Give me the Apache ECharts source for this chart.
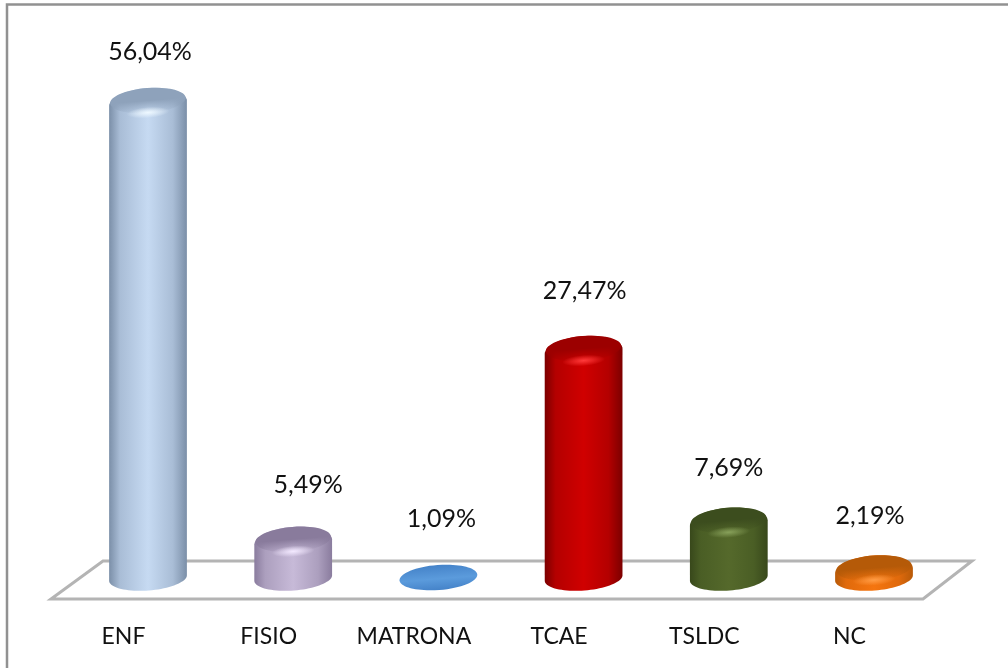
<!DOCTYPE html>
<html>
<head>
<meta charset="utf-8">
<style>
  html, body { margin: 0; padding: 0; background: #fff; }
  #main { width: 1008px; height: 668px; }
</style>
<script src="https://cdn.jsdelivr.net/npm/echarts@6/dist/echarts.min.js"></script>
</head>
<body>
<div id="main"></div>
<script>
var categories = ["ENF", "FISIO", "MATRONA", "TCAE", "TSLDC", "NC"];
var percentValues = [56.04, 5.49, 1.09, 27.47, 7.69, 2.19];

// colours of each cylinder: edge, shade, middle, top face, highlight
var edgeColors = ["#7b8fa8", "#8a7c9e", "#3f78bb", "#7c0000", "#38481b", "#b85a08"];
var shadeColors = ["#a9bdd6", "#ac9fbe", "#4a88cc", "#b40000", "#4a5e25", "#e06a0c"];
var midColors = ["#c6daf2", "#c7bad8", "#5b9bdc", "#d00000", "#55692b", "#f5750f"];
var topColors = ["#8ea2bb", "#897b9c", "#4583c9", "#9c0000", "#3c4d1e", "#b55a08"];
var lightColors = ["#eef8ff", "#f3e9ff", "#6eaae6", "#ff3a3a", "#87a05a", "#ff9c45"];

// manual nudges of the value labels, they do not sit on the bar centres in the original
var labelDx = [2, 15, 3, 1, 0, -4];
var labelDy = [-36, -42, -46, -45, -40, -40];

var halfWidth = 39;
var halfDepth = 12.5;
var shoulder = 3;
var tilt = 4.5 * Math.PI / 180;
// the cylinders stand on this level of the value axis
var baseLevel = 1.04;

function rotated(cx, cy, px, py) {
  return [
    cx + px * Math.cos(tilt) + py * Math.sin(tilt),
    cy - px * Math.sin(tilt) + py * Math.cos(tilt)
  ];
}

// outline: front half of the base, rounded shoulder half on top
function outline(cx, baseY, topY) {
  var pts = [];
  var i, t;
  for (i = 0; i <= 40; i++) {
    t = Math.PI * i / 40;
    pts.push(rotated(cx, baseY, -halfWidth * Math.cos(t), halfDepth * Math.sin(t)));
  }
  for (i = 0; i <= 40; i++) {
    t = Math.PI * i / 40;
    pts.push(rotated(cx, topY + shoulder, halfWidth * Math.cos(t), -(halfDepth + shoulder) * Math.sin(t)));
  }
  return pts;
}

function tiltedEllipse(cx, cy, rx, ry, fill) {
  return {
    type: "ellipse",
    x: cx,
    y: cy,
    rotation: tilt,
    shape: { cx: 0, cy: 0, rx: rx, ry: ry },
    style: { fill: fill }
  };
}

// unit circle scaled up, so a radial gradient follows the ellipse
function softEllipse(cx, cy, rx, ry, color) {
  return {
    type: "circle",
    x: cx,
    y: cy,
    scaleX: rx,
    scaleY: ry,
    rotation: tilt,
    shape: { cx: 0, cy: 0, r: 1 },
    style: {
      fill: new echarts.graphic.RadialGradient(0.5, 0.5, 0.5, [
        { offset: 0, color: color },
        { offset: 1, color: echarts.color.modifyAlpha(color, 0) }
      ])
    }
  };
}

function renderCylinder(params, api) {
  var i = params.dataIndex;
  var value = api.value(1);
  var cx = api.coord([api.value(0), 0])[0];
  var topY = api.coord([api.value(0), value])[1];
  var baseY = Math.max(api.coord([api.value(0), baseLevel])[1], topY);
  var flat = baseY - topY < 4;

  var children = [];
  if (flat) {
    children.push(tiltedEllipse(cx, topY, halfWidth, halfDepth,
      new echarts.graphic.LinearGradient(0, 0, 0, 1, [
        { offset: 0, color: topColors[i] },
        { offset: 0.55, color: midColors[i] },
        { offset: 1, color: topColors[i] }
      ])));
  } else {
    children.push({
      type: "polygon",
      shape: { points: outline(cx, baseY, topY) },
      style: {
        fill: new echarts.graphic.LinearGradient(0, 0, 1, 0, [
          { offset: 0, color: edgeColors[i] },
          { offset: 0.14, color: shadeColors[i] },
          { offset: 0.5, color: midColors[i] },
          { offset: 0.82, color: shadeColors[i] },
          { offset: 1, color: edgeColors[i] }
        ])
      }
    });
    // top face, dark at the back and fading out over the shoulder
    children.push(tiltedEllipse(cx, topY, halfWidth * 0.97, halfDepth,
      new echarts.graphic.LinearGradient(0, 0, 0, 1, [
        { offset: 0, color: topColors[i] },
        { offset: 0.5, color: topColors[i] },
        { offset: 1, color: echarts.color.modifyAlpha(topColors[i], 0) }
      ])));
    // highlight under the rim
    children.push(softEllipse(cx, topY + 12, halfWidth * 0.55, 5.5, lightColors[i]));
  }

  children.push({
    type: "text",
    x: cx + labelDx[i],
    y: topY - halfDepth + labelDy[i],
    style: {
      text: value.toFixed(2).replace(".", ",") + "%",
      font: "25px Lato",
      fill: "#111",
      align: "center",
      verticalAlign: "middle"
    }
  });

  return { type: "group", children: children };
}

var chart = echarts.init(document.getElementById("main"), null, { renderer: "canvas" });

chart.setOption({
  animation: false,
  backgroundColor: "#fff",
  grid: { left: 75.4, top: 66.2, width: 871.2, height: 520.8 },
  xAxis: {
    type: "category",
    data: categories,
    axisLine: { show: false },
    axisTick: { show: false },
    axisLabel: {
      margin: 38,
      interval: 0,
      color: "#111",
      fontFamily: "Lato",
      fontSize: 23,
      padding: [0, 49, 0, 0]
    }
  },
  yAxis: {
    type: "value",
    min: 0,
    max: 60,
    show: false,
    splitLine: { show: false }
  },
  graphic: [
    {
      type: "rect",
      shape: { x: 7, y: 4.5, width: 1010, height: 680 },
      style: { fill: "#fff", stroke: "#919191", lineWidth: 2.5 },
      z: 0
    },
    {
      type: "polygon",
      shape: { points: [[51, 599], [923, 599], [972, 561], [103, 561]] },
      style: { fill: "#fff", stroke: "#b4b4b4", lineWidth: 3 },
      z: 1
    }
  ],
  series: [
    {
      type: "custom",
      renderItem: renderCylinder,
      clip: false,
      encode: { x: 0, y: 1 },
      data: categories.map(function (c, i) { return [i, percentValues[i]]; })
    }
  ]
});
</script>
</body>
</html>
